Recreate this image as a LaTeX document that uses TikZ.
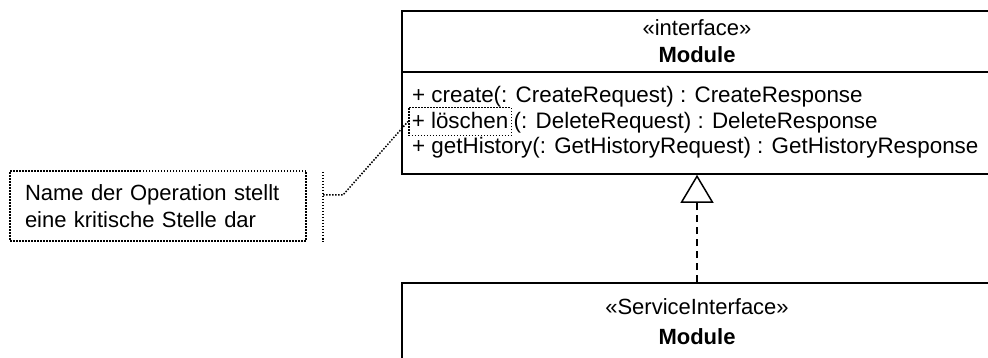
\documentclass[tikz,border=0pt]{standalone}
\usepackage{fontspec}
\setmainfont{Liberation Sans}
\usepackage{tikz}
\usetikzlibrary{arrows.meta, positioning}

\tikzset{
  umlbox/.style={draw, line width=1.6pt, rectangle, inner sep=0pt},
  umltext/.style={font=\fontsize{22}{27}\selectfont, inner sep=0pt},
  optext/.style={font=\fontsize{22.4}{27}\selectfont, inner sep=0pt},
  notebox/.style={draw, line width=1.5pt, dash pattern=on 1.5pt off 1.5pt, rectangle},
  notelink/.style={line width=1.5pt, dash pattern=on 1.5pt off 1.5pt},
  realizes/.style={line width=1.5pt, dash pattern=on 7pt off 5pt,
    -{Triangle[open, length=28pt, width=33pt, line width=1.5pt]}}
}

\begin{document}
\begin{tikzpicture}[x=1pt, y=-1pt]
    \clip (0,0) rectangle (988,358);
    \useasboundingbox (0,0) rectangle (988,358);

    % interface Module
    \node[umlbox, minimum width=590pt, minimum height=61pt] (ifacehead) at (697,41.5) {};
    \node[umltext, anchor=base] (ifacestereo) at (697,36) {«interface»};
    \node[umltext, anchor=base, font=\fontsize{22}{27}\selectfont\bfseries] (ifacename) at (697,63) {Module};
    \node[umlbox, minimum width=590pt, minimum height=102pt] (ifaceops) at (697,123) {};
    \node[optext, anchor=base west] (opcreate) at (412,103) {+ create(: CreateRequest) : CreateResponse};
    \node[optext, notebox, anchor=base west, inner xsep=3pt, inner ysep=0pt,
          text height=21pt, text depth=7pt] (oploeschen) at (408,128.5) {+ löschen};
    \node[optext, anchor=base west] (opdelete) at ([xshift=1.5pt]oploeschen.base east) {(: DeleteRequest) : DeleteResponse};
    \node[optext, anchor=base west] (ophistory) at (412,154) {+ getHistory(: GetHistoryRequest) : GetHistoryResponse};

    % ServiceInterface Module
    \node[umlbox, minimum width=590pt, minimum height=120pt] (svcbox) at (697,343) {};
    \node[umltext, anchor=base] (svcstereo) at (697,314) {«ServiceInterface»};
    \node[umltext, anchor=base, font=\fontsize{22}{27}\selectfont\bfseries] (svcname) at (697,344) {Module};

    \draw[realizes] (svcbox.north) -- (ifaceops.south);

    % note
    \node[notebox, minimum width=296pt, minimum height=70pt, text width=266pt, inner xsep=15pt,
          align=left, font=\fontsize{22}{27}\selectfont] (note) at (158,206)
          {Name der Operation stellt\\eine kritische Stelle dar};
    \coordinate (bartop) at (323,172);
    \coordinate (barbot) at (323,242);
    \coordinate (barmid) at (323,195);
    \coordinate (knee) at (343,195);
    \draw[notelink] (bartop) -- (barbot);
    \draw[notelink] (barmid) -- (knee) -- (oploeschen.west);
\end{tikzpicture}
\end{document}
